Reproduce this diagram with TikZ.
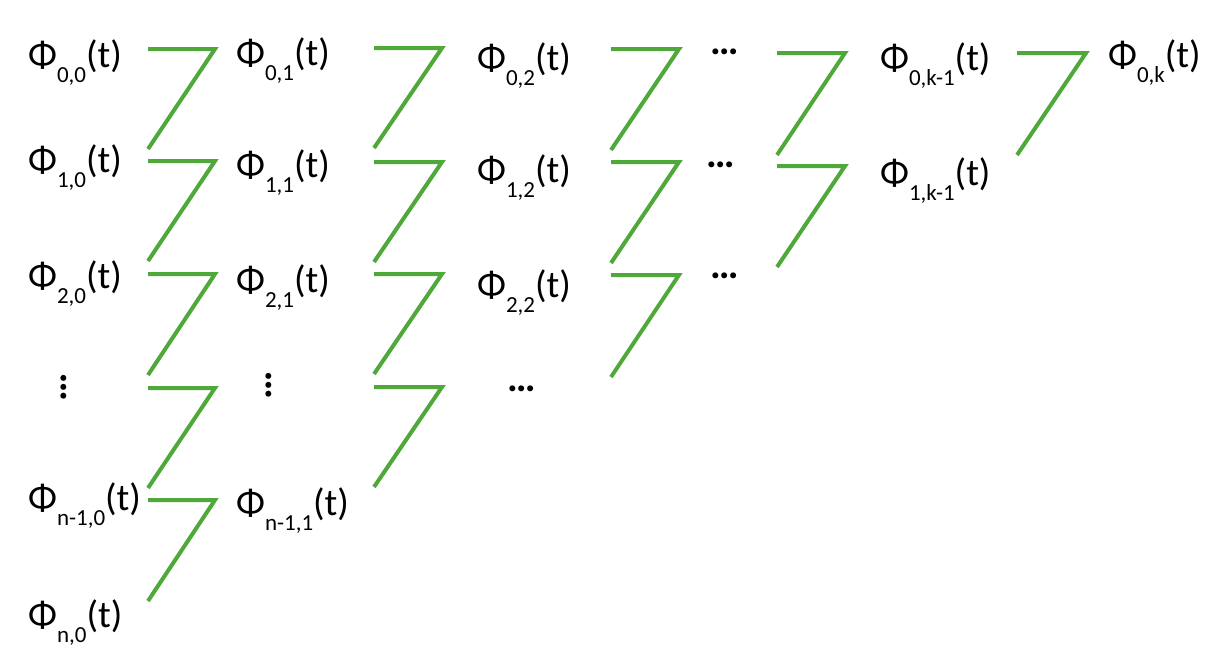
\documentclass[tikz,border=0pt]{standalone}
\usepackage{fontspec}
\setmainfont{Carlito}
\newcommand{\philab}[1]{Φ\raisebox{-15pt}{\fontsize{23}{24}\selectfont #1}(t)}
\definecolor{zgreen}{RGB}{78,168,58}
\begin{document}
\begin{tikzpicture}[x=1pt,y=-1pt,
  lab/.style={inner sep=0pt,anchor=base west,font=\fontsize{38}{40}\selectfont},
  ell/.style={inner sep=0pt,anchor=center,font=\fontsize{40}{42}\selectfont\bfseries},
  link/.style={draw=zgreen,line width=4pt,line join=miter}]
\useasboundingbox (0,0) rectangle (1216,667);
% column 0
\node[lab] (p00) at (28,67) {\philab{0,0}};
\node[lab] (p10) at (28,172) {\philab{1,0}};
\node[lab] (p20) at (28,288) {\philab{2,0}};
\node[ell,rotate=90] (v0) at (64,387) {…};
\node[lab] (pn10) at (28,510) {\philab{n-1,0}};
\node[lab] (pn0) at (28,627) {\philab{n,0}};
% column 1
\node[lab] (p01) at (236,65) {\philab{0,1}};
\node[lab] (p11) at (236,177) {\philab{1,1}};
\node[lab] (p21) at (236,292) {\philab{2,1}};
\node[ell,rotate=90] (v1) at (269,385) {…};
\node[lab] (pn11) at (236,515) {\philab{n-1,1}};
% column 2
\node[lab] (p02) at (477,70) {\philab{0,2}};
\node[lab] (p12) at (477,182) {\philab{1,2}};
\node[lab] (p22) at (477,297) {\philab{2,2}};
\node[ell] (h2) at (522,389) {…};
% column 3
\node[ell] (h03) at (725,52) {…};
\node[ell] (h13) at (721,165) {…};
\node[ell] (h23) at (725,276) {…};
% column 4
\node[lab] (p0k1) at (880,70) {\philab{0,k-1}};
\node[lab] (p1k1) at (880,185) {\philab{1,k-1}};
% column 5
\node[lab] (p0k) at (1108,67) {\philab{0,k}};
% col 0 connectors
\foreach \i/\h/\e in {0/49/149,1/161/261,2/274/375,3/388/488,4/500/601}{
  \coordinate (a0\i) at (148,\h); \coordinate (b0\i) at (215,\h); \coordinate (c0\i) at (148,\e);
  \draw[link] (a0\i) -- (b0\i) -- (c0\i);}
% col 1 connectors
\foreach \i/\h/\e in {0/48/148,1/162/262,2/274/374,3/387/487}{
  \coordinate (a1\i) at (374,\h); \coordinate (b1\i) at (442,\h); \coordinate (c1\i) at (374,\e);
  \draw[link] (a1\i) -- (b1\i) -- (c1\i);}
% col 2 connectors
\foreach \i/\h/\e in {0/49/150,1/162/263,2/275/377}{
  \coordinate (a2\i) at (611,\h); \coordinate (b2\i) at (679,\h); \coordinate (c2\i) at (611,\e);
  \draw[link] (a2\i) -- (b2\i) -- (c2\i);}
% col 3 connectors
\foreach \i/\h/\e in {0/53/155,1/166/267}{
  \coordinate (a3\i) at (777,\h); \coordinate (b3\i) at (845,\h); \coordinate (c3\i) at (777,\e);
  \draw[link] (a3\i) -- (b3\i) -- (c3\i);}
% col 4 connector
\coordinate (a40) at (1017,53); \coordinate (b40) at (1086,53); \coordinate (c40) at (1017,155);
\draw[link] (a40) -- (b40) -- (c40);
\end{tikzpicture}
\end{document}
